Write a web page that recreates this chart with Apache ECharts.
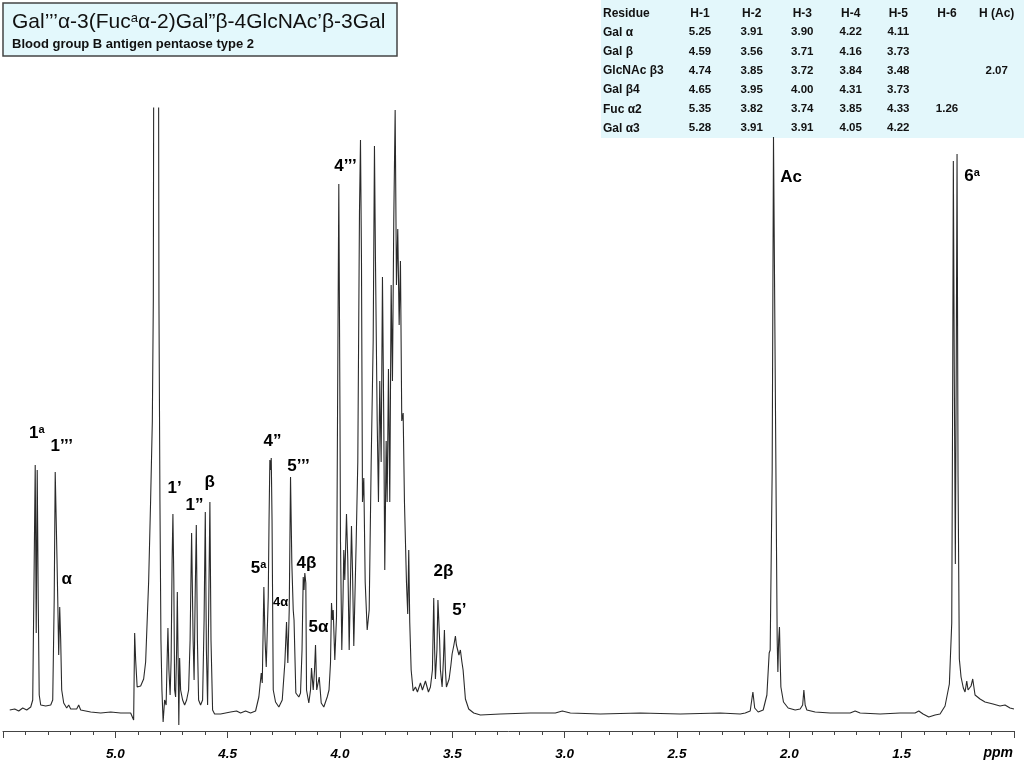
<!DOCTYPE html>
<html>
<head>
<meta charset="utf-8">
<script src="https://cdn.jsdelivr.net/npm/echarts@6.0.0/dist/echarts.min.js"></script>
<style>
  html, body { margin: 0; padding: 0; background: #fff; }
  #chart-container { width: 1024px; height: 768px; }
</style>
</head>
<body>
<div id="chart-container"></div>
<script>
// spectrum trace: [ppm, intensity]
const anomericRegion = [
  [5.4700,21],[5.4478,22],[5.4300,20],[5.4122,23],[5.3944,21],[5.3766,24],[5.3677,31],[5.3610,171],
  [5.3566,266],[5.3521,98],[5.3477,261],[5.3432,131],[5.3388,36],[5.3321,26],[5.3099,25],[5.2876,26],
  [5.2787,31],[5.2721,131],[5.2676,259],[5.2632,261],[5.2596,171],[5.2565,134],[5.2521,76],[5.2476,124],
  [5.2432,91],[5.2387,41],[5.2298,28],[5.2165,23],[5.2076,26],[5.1987,22],[5.1720,22],[5.1631,26],
  [5.1542,21],[5.1097,19],[5.0653,18],[5.0208,19],[4.9763,18],[4.9318,18]
];
const waterRegion = [
  [4.9185,11],[4.9140,98],[4.9096,71],[4.9029,44],[4.8873,45],[4.8740,52],[4.8651,69],[4.8518,149],
  [4.8429,231],[4.8353,310],[4.8309,431],[4.8273,931],[4.8095,931],[4.8059,431],[4.8015,231],[4.7970,91],
  [4.7926,41],[4.7873,9],[4.7806,31],[4.7739,26],[4.7695,71],[4.7659,103],[4.7615,61],[4.7561,36],
  [4.7517,71],[4.7472,171],[4.7437,217],[4.7397,151],[4.7361,41],[4.7317,34],[4.7272,81],[4.7241,139],
  [4.7205,71],[4.7174,6],[4.7139,73],[4.7094,41],[4.7005,31],[4.6916,26],[4.6827,31],[4.6738,41],
  [4.6672,91],[4.6605,198],[4.6538,91],[4.6494,51],[4.6449,131],[4.6396,206],[4.6347,91],[4.6294,31],
  [4.6205,26],[4.6116,31],[4.6049,111],[4.5996,219],[4.5947,81],[4.5893,26],[4.5840,131],[4.5791,229],
  [4.5742,91],[4.5671,21],[4.5582,17]
];
const h4h5Region = [
  [4.5315,17],[4.4870,19],[4.4604,20],[4.4426,18],[4.4203,20],[4.3981,18],[4.3758,20],[4.3670,21],
  [4.3612,34],[4.3505,58],[4.3460,48],[4.3389,144],[4.3336,91],[4.3283,64],[4.3194,134],[4.3158,211],
  [4.3122,271],[4.3091,261],[4.3060,273],[4.3025,211],[4.2971,41],[4.2869,29],[4.2722,24],[4.2571,31],
  [4.2455,68],[4.2380,109],[4.2322,68],[4.2260,121],[4.2202,254],[4.2144,168],[4.2082,121],[4.2046,111],
  [4.1966,38],[4.1833,34],[4.1757,38],[4.1690,81],[4.1637,154],[4.1601,141],[4.1566,158],[4.1521,148],
  [4.1490,41],[4.1388,28],[4.1312,41],[4.1268,63],[4.1192,41],[4.1134,61],[4.1090,86],[4.1036,41],
  [4.0979,41],[4.0925,54],[4.0836,28],[4.0721,24],[4.0569,34],[4.0489,41],[4.0423,68],[4.0378,128],
  [4.0334,111],[4.0303,121],[4.0231,71],[4.0156,114]
];
const ringRegion = [
  [4.0111,311],[4.0053,547],[4.0000,311],[3.9978,189],[3.9920,81],[3.9867,131],[3.9831,181],[3.9787,151],
  [3.9711,217],[3.9653,171],[3.9591,81],[3.9489,205],[3.9444,161],[3.9386,85],[3.9280,189],[3.9208,269],
  [3.9133,519],[3.9088,591],[3.9044,470],[3.8999,229],[3.8941,253],[3.8879,149],[3.8790,101],[3.8701,121],
  [3.8612,269],[3.8523,390],[3.8466,585],[3.8421,470],[3.8345,310],[3.8288,229],[3.8230,350],[3.8168,269],
  [3.8110,454],[3.8052,310],[3.8007,161],[3.7945,290],[3.7901,229],[3.7843,362],[3.7785,229],[3.7723,446],
  [3.7665,350],[3.7607,510],[3.7545,621],[3.7487,446],[3.7429,502],[3.7367,406],[3.7309,470],[3.7251,310],
  [3.7189,318],[3.7131,229],[3.7042,149],[3.6985,117],[3.6940,181],[3.6896,109],[3.6833,61],[3.6744,40],
  [3.6642,44],[3.6553,39],[3.6420,48],[3.6331,41],[3.6197,50],[3.6064,39],[3.5975,44],[3.5886,61],
  [3.5828,133],[3.5788,81],[3.5753,52],[3.5686,81],[3.5641,131],[3.5606,133],[3.5566,91],[3.5530,61],
  [3.5455,44],[3.5397,71],[3.5352,101],[3.5308,61],[3.5263,44],[3.5143,52],[3.5063,66],[3.5010,77],
  [3.4930,86],[3.4863,95],[3.4819,86],[3.4761,85],[3.4707,76],[3.4641,81],[3.4574,69],[3.4521,61],
  [3.4418,32],[3.4271,22],[3.4049,18],[3.3751,16]
];
const methylRegion = [
  [3.2861,17],[3.1527,18],[3.0415,18],[3.0104,20],[2.9748,18],[2.8414,17],[2.6635,18],[2.4855,17],
  [2.3076,18],[2.2187,17],[2.1964,18],[2.1742,20],[2.1622,39],[2.1542,23],[2.1386,19],[2.1164,21],
  [2.0999,36],[2.0897,78],[2.0852,81],[2.0808,171],[2.0763,262],[2.0705,594],[2.0630,594],[2.0585,224],
  [2.0541,91],[2.0510,59],[2.0474,91],[2.0439,104],[2.0407,71],[2.0376,44],[2.0261,29],[2.0052,23],
  [1.9963,25],[1.9740,21],[1.9518,22],[1.9407,26],[1.9353,41],[1.9296,26],[1.9220,21],[1.8851,19],
  [1.8184,18],[1.7294,18],[1.7072,20],[1.6849,18],[1.5960,17],[1.5070,18],[1.4403,18],[1.4238,20],
  [1.4047,17],[1.3794,14],[1.3513,16],[1.3291,17],[1.3069,25],[1.2877,47],[1.2771,108],[1.2726,363],
  [1.2700,570],[1.2659,363],[1.2611,167],[1.2571,363],[1.2535,577],[1.2490,254],[1.2433,72],[1.2357,54],
  [1.2255,43],[1.2179,39],[1.2103,50],[1.2046,41],[1.1988,43],[1.1912,45],[1.1837,52],[1.1734,36],
  [1.1512,32],[1.1290,29],[1.0934,27],[1.0622,25],[1.0400,26],[1.0178,23],[1.0000,22]
];

// peak assignments
const peakLabels = ['{n|1}{s|a}', '{n|1’’’}', '{n|α}', '{n|1’}', '{n|1”}', '{n|β}', '{n|5}{s|a}', '{n|4”}',
  '{m|4α}', '{n|5’’’}', '{n|4β}', '{n|5α}', '{n|4’’’}', '{n|2β}', '{n|5’}', '{n|Ac}', '{n|6}{s|a}'];
const peakLabelPpm = [5.3499, 5.2387, 5.2165, 4.7361, 4.6472, 4.5804, 4.3625, 4.3002,
  4.2646, 4.1846, 4.1490, 4.0956, 3.9755, 3.5397, 3.4685, 1.9918, 1.1868];
const peakLabelHeight = [298, 285, 152, 243, 226, 249, 163, 290,
  129, 265, 168, 104, 565, 160, 121, 554, 555];

// chemical shift table
const tableHeaders = ['Residue', 'H-1', 'H-2', 'H-3', 'H-4', 'H-5', 'H-6', 'H (Ac)'];
const residues = ['Gal α', 'Gal β', 'GlcNAc β3', 'Gal β4', 'Fuc α2', 'Gal α3'];
const shiftRows = [
  ['5.25', '3.91', '3.90', '4.22', '4.11', '', ''],
  ['4.59', '3.56', '3.71', '4.16', '3.73', '', ''],
  ['4.74', '3.85', '3.72', '3.84', '3.48', '', '2.07'],
  ['4.65', '3.95', '4.00', '4.31', '3.73', '', ''],
  ['5.35', '3.82', '3.74', '3.85', '4.33', '1.26', ''],
  ['5.28', '3.91', '3.91', '4.05', '4.22', '', '']
];

const FONT = '"Liberation Sans", Arial, Helvetica, sans-serif';
const spectrum = [].concat(anomericRegion, waterRegion, h4h5Region, ringRegion, methylRegion);

const dom = document.getElementById('chart-container');
const myChart = echarts.init(dom, null, { renderer: 'canvas' });

function txt(x, y, text, font, align) {
  return {
    type: 'text', x: x, y: y, z: 10,
    style: {
      text: text, font: font, fill: '#111',
      align: align, textAlign: align,
      verticalAlign: 'middle', textVerticalAlign: 'middle'
    }
  };
}

// table graphics
const colX = [700, 751.7, 802.3, 850.7, 898.3, 947, 996.7];
const rowY = [13.3, 32.3, 51.7, 71, 90, 109.3, 128.3];
const tableEls = [];
tableEls.push({ type: 'rect', z: -1, shape: { x: 601, y: 0, width: 423, height: 138 }, style: { fill: '#e3f7fb' } });
tableEls.push(txt(603, rowY[0], tableHeaders[0], 'bold 12px ' + FONT, 'left'));
tableHeaders.slice(1).forEach((h, i) => tableEls.push(txt(colX[i], rowY[0], h, 'bold 12px ' + FONT, 'center')));
residues.forEach((r, j) => {
  tableEls.push(txt(603, rowY[j + 1], r, 'bold 12px ' + FONT, 'left'));
  shiftRows[j].forEach((v, i) => {
    if (v) tableEls.push(txt(colX[i], rowY[j + 1], v, 'bold 11.5px ' + FONT, 'center'));
  });
});

var option = {
  animation: false,
  backgroundColor: '#fff',
  grid: { left: 2, right: 10, top: 108, bottom: 37 },
  xAxis: {
    type: 'value',
    inverse: true,
    min: 1.0,
    max: 5.5,
    interval: 0.5,
    axisLine: { lineStyle: { color: '#444', width: 1 } },
    axisTick: { show: true, length: 7, lineStyle: { color: '#444' } },
    minorTick: { show: true, splitNumber: 5, length: 4, lineStyle: { color: '#444' } },
    splitLine: { show: false },
    axisLabel: {
      margin: 16,
      fontFamily: FONT,
      fontSize: 13.5,
      fontStyle: 'italic',
      fontWeight: 'bold',
      color: '#000',
      formatter: (v) => (v <= 1.0 || v >= 5.5) ? '' : v.toFixed(1)
    }
  },
  yAxis: { type: 'value', min: 0, max: 623, show: false },
  series: [
    {
      type: 'line',
      data: spectrum,
      showSymbol: false,
      clip: true,
      lineStyle: { color: '#2a2a2a', width: 1.1 },
      z: 2
    },
    {
      type: 'scatter',
      symbolSize: 0,
      itemStyle: { opacity: 1 },
      data: peakLabelPpm.map((p, i) => ({ value: [p, peakLabelHeight[i]], name: peakLabels[i] })),
      label: {
        show: true,
        position: 'inside',
        formatter: (p) => p.name,
        color: '#000',
        opacity: 1,
        rich: {
          n: { fontFamily: FONT, fontSize: 17, fontWeight: 'bold', color: '#000' },
          s: { fontFamily: FONT, fontSize: 11, fontWeight: 'bold', color: '#000', verticalAlign: 'top' },
          m: { fontFamily: FONT, fontSize: 13, fontWeight: 'bold', color: '#000' }
        }
      },
      z: 5
    }
  ],
  graphic: {
    elements: [
      { type: 'rect', z: -1, shape: { x: 3, y: 3, width: 394, height: 53 }, style: { fill: '#e3f8fc', stroke: '#444', lineWidth: 1.5 } },
      {
        type: 'text', x: 12, y: 22, z: 10,
        style: {
          text: '{t|Gal’’’α-3(Fuc}{s|a}{t|α-2)Gal”β-4GlcNAc’β-3Gal}',
          verticalAlign: 'middle', textVerticalAlign: 'middle',
          rich: {
            t: { fontFamily: FONT, fontSize: 21, fill: '#111', color: '#111' },
            s: { fontFamily: FONT, fontSize: 13, fill: '#111', color: '#111', verticalAlign: 'top' }
          }
        }
      },
      txt(12, 44, 'Blood group B antigen pentaose type 2', 'bold 13px ' + FONT, 'left'),
      {
        type: 'text', x: 1013, y: 753, z: 10,
        style: {
          text: 'ppm', font: 'italic bold 14px ' + FONT, fill: '#000',
          align: 'right', textAlign: 'right', verticalAlign: 'middle', textVerticalAlign: 'middle'
        }
      }
    ].concat(tableEls)
  }
};

myChart.setOption(option);
window.addEventListener('resize', myChart.resize);
</script>
</body>
</html>
